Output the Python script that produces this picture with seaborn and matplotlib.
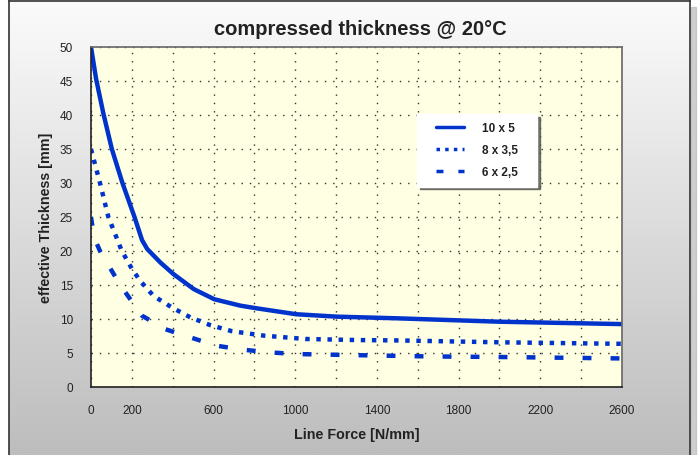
import numpy as np
import pandas as pd
import matplotlib
matplotlib.use("Agg")
import matplotlib.pyplot as plt
from matplotlib.path import Path
import seaborn as sns

# data
force_10x5 = [0, 25, 60, 102, 154, 213, 250, 275, 340, 404, 503, 604, 732, 805,
              1005, 1200, 1500, 2000, 2600]
thick_10x5 = [50, 45.3, 40.3, 35, 30, 25, 21.6, 20.3, 18.3, 16.6, 14.4, 12.9, 11.96, 11.6,
              10.7, 10.35, 10.1, 9.6, 9.25]
force_8x35 = [0, 44, 85, 151, 200, 241, 306, 396, 486, 584, 691, 847, 1051, 1313, 1500, 2009, 2600]
thick_8x35 = [35, 30, 25, 20, 17.4, 15.6, 13.4, 11.7, 10.25, 9.1, 8.2, 7.55, 7.06, 6.9, 6.85, 6.57, 6.35]
force_6x25 = [0, 15, 44, 143, 249, 364, 609, 740, 871, 1002, 1264, 1648, 2040, 2600]
thick_6x25 = [25, 22, 20, 15, 10.5, 8.5, 6.1, 5.5, 5.1, 4.85, 4.7, 4.5, 4.4, 4.2]
series_names = ["10 x 5", "8 x 3,5", "6 x 2,5"]

xticks = list(range(0, 2601, 200))
xtick_labels = ["0", "200", "", "600", "", "1000", "", "1400", "", "1800", "", "2200", "", "2600"]
yticks = list(range(0, 51, 5))

df = pd.concat([
    pd.DataFrame({"force": force_10x5, "thick": thick_10x5, "type": series_names[0]}),
    pd.DataFrame({"force": force_8x35, "thick": thick_8x35, "type": series_names[1]}),
    pd.DataFrame({"force": force_6x25, "thick": thick_6x25, "type": series_names[2]}),
])

sns.set_theme(style="white")
plt.rcParams["font.family"] = ["Liberation Sans", "DejaVu Sans"]

fig = plt.figure(figsize=(6.98, 4.56), dpi=100)
fig.patch.set_facecolor("white")

# gray gradient background frame
bg = fig.add_axes([9 / 698, 0, 681 / 698, 1 - 2 / 456], zorder=-5)
grad = np.linspace(0, 1, 256).reshape(-1, 1)
bg.imshow(grad, aspect="auto", cmap=plt.matplotlib.colors.LinearSegmentedColormap.from_list(
    "g", ["#fbfbfb", "#bdbdbd"]), extent=[0, 1, 0, 1])
bg.set_xticks([])
bg.set_yticks([])
for s in bg.spines.values():
    s.set_color("#333333")
    s.set_linewidth(1.2)
bg.spines["bottom"].set_visible(False)
# shadow on the right
fig.add_artist(plt.Rectangle((691 / 698, 0), 5 / 698, 1 - 8 / 456, transform=fig.transFigure,
                             color="#b0b0b0", alpha=0.6, zorder=-6))

ax = fig.add_axes([91 / 698, 1 - 388 / 456, 531 / 698, 340 / 456])
ax.set_facecolor("#ffffe3")

blue = "#0033cc"
styles = {series_names[0]: "-", series_names[1]: (0, (1, 1.5)), series_names[2]: (0, (2, 4.3))}
for name in series_names:
    sub = df[df["type"] == name]
    sns.lineplot(data=sub, x="force", y="thick", ax=ax, color=blue, linewidth=3.2,
                 linestyle=styles[name], label=name, estimator=None, sort=False)

ax.set_xlim(0, 2600)
ax.set_ylim(0, 50)
ax.set_xticks(xticks)
ax.set_xticklabels(xtick_labels, fontsize=8.5, color="#222222")
ax.set_yticks(yticks)
ax.set_yticklabels([str(v) for v in yticks], fontsize=8.5, color="#222222")
ax.tick_params(axis="x", direction="out", length=6, width=1.2, color="#222222", pad=6)
ax.tick_params(axis="y", direction="out", length=4, width=1, color="#222222", pad=9)
ax.grid(True, color="#333333", linestyle=(0, (1, 5)), linewidth=1)
for s in ax.spines.values():
    s.set_color("#222222")
    s.set_linewidth(1.2)
ax.spines["top"].set_color("#666666")
ax.spines["right"].set_color("#666666")

ax.set_xlabel("Line Force [N/mm]", fontsize=10.3, fontweight="bold", color="#222222", labelpad=8)
ax.set_ylabel("effective Thickness [mm]", fontsize=10.3, fontweight="bold", color="#222222", labelpad=5)
fig.text(0.516, 0.935, "compressed thickness @ 20°C", ha="center", va="center",
         fontsize=14.5, fontweight="bold", color="#222222")


# legend frame wider than tall padding
def wide_box(x0, y0, width, height, mutation_size):
    px = mutation_size * 0.9
    return Path([(x0 - px, y0), (x0 + width + px, y0), (x0 + width + px, y0 + height),
                 (x0 - px, y0 + height), (x0 - px, y0)], closed=True)


leg = ax.legend(loc="upper left", bbox_to_anchor=(0.634, 0.803), borderaxespad=0,
                frameon=True, fancybox=False, shadow={"color": "#555555", "alpha": 0.8},
                framealpha=1, edgecolor="white", handlelength=2.4,
                fontsize=8.5, borderpad=0.7, labelspacing=0.85, handletextpad=1.5)
leg.get_frame().set_boxstyle(wide_box)
for t in leg.get_texts():
    t.set_fontweight("bold")
    t.set_color("#222222")
for ln in leg.get_lines():
    ln.set_linewidth(2.5)

fig.savefig("out.png", dpi=100)
